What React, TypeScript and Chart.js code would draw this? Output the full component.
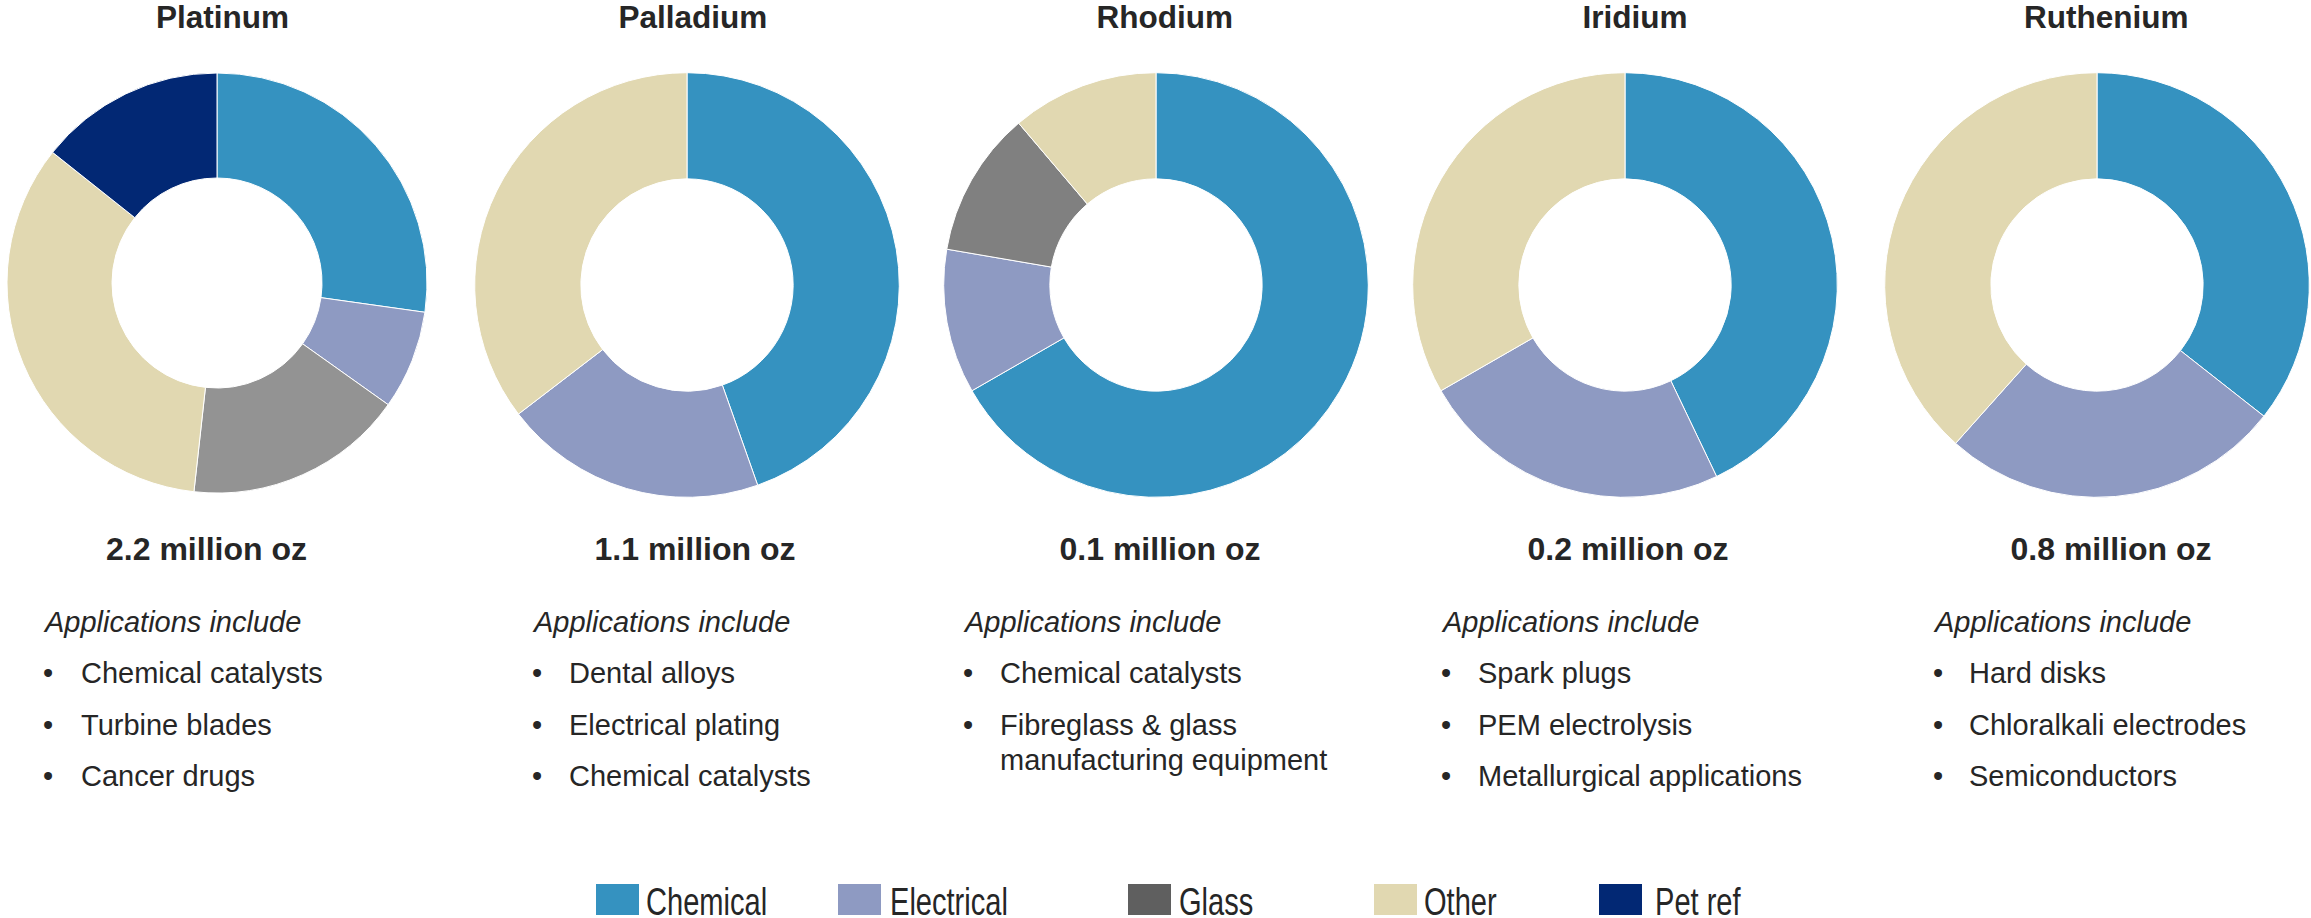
import React, { useEffect, useRef } from 'react';
import { Chart, registerables } from 'chart.js';

Chart.register(...registerables);

// ---------- data ----------
const categories = ['Chemical', 'Electrical', 'Glass', 'Other', 'Pet ref'];
const legendColors = ['#3592c0', '#8e9ac2', '#5f5f5f', '#e1d8b1', '#022874'];

const metals = ['Platinum', 'Palladium', 'Rhodium', 'Iridium', 'Ruthenium'];
const totals = ['2.2 million oz', '1.1 million oz', '0.1 million oz', '0.2 million oz', '0.8 million oz'];

// shares (%) in category order: Chemical, Electrical, Glass, Other, Pet ref
const platinumShares = [27.2, 7.6, 16.9, 33.9, 14.3];
const palladiumShares = [44.6, 20.0, 0, 35.4, 0];
const rhodiumShares = [66.7, 11.0, 11.1, 11.2, 0];
const iridiumShares = [42.9, 23.8, 0, 33.3, 0];
const rutheniumShares = [35.6, 26.0, 0, 38.4, 0];

// glass shade used in each ring
const glassShades = ['#939393', '#5f5f5f', '#808080', '#5f5f5f', '#5f5f5f'];

const platinumUses = ['Chemical catalysts', 'Turbine blades', 'Cancer drugs'];
const palladiumUses = ['Dental alloys', 'Electrical plating', 'Chemical catalysts'];
const rhodiumUses = ['Chemical catalysts', 'Fibreglass & glass manufacturing equipment'];
const iridiumUses = ['Spark plugs', 'PEM electrolysis', 'Metallurgical applications'];
const rutheniumUses = ['Hard disks', 'Chloralkali electrodes', 'Semiconductors'];

const sharesByMetal = [platinumShares, palladiumShares, rhodiumShares, iridiumShares, rutheniumShares];
const usesByMetal = [platinumUses, palladiumUses, rhodiumUses, iridiumUses, rutheniumUses];

// ---------- layout ----------
const ringCx = [217.3, 686.7, 1155.7, 1625, 2096.5];
const ringCy = [283, 284.6, 284.6, 284.6, 284.6];
const ringR = [210, 212.3, 212.3, 212.3, 212.3];
const titleCx = [222.5, 692.8, 1164.7, 1635, 2106.3];
const totalCx = [206.5, 695, 1160, 1628, 2111];
const textLeft = [45, 534, 965, 1443, 1935];
const bulletGap = [36, 35, 35, 35, 34];
const legendBoxX = [596, 838, 1128, 1374, 1599];
const legendTextX = [646, 890, 1179, 1424, 1655];

const CANVAS = 440;
const FONT = "'Liberation Sans', Arial, Helvetica, sans-serif";
const TEXT = '#262626';

function Donut({ idx }: { idx: number }) {
  const ref = useRef<HTMLCanvasElement | null>(null);
  useEffect(() => {
    if (!ref.current) return;
    const colors = legendColors.slice();
    colors[2] = glassShades[idx];
    const chart = new Chart(ref.current, {
      type: 'doughnut',
      data: {
        labels: categories,
        datasets: [
          {
            data: sharesByMetal[idx],
            backgroundColor: colors,
            borderColor: '#ffffff',
            borderWidth: 1,
            hoverOffset: 0,
            radius: ringR[idx],
          } as any,
        ],
      },
      options: {
        responsive: false,
        maintainAspectRatio: false,
        animation: false,
        cutout: '50%',
        rotation: 0,
        layout: { padding: 0 },
        plugins: {
          legend: { display: false },
          tooltip: { enabled: false },
          title: { display: false },
        },
        events: [],
      } as any,
    });
    return () => chart.destroy();
  }, [idx]);
  return (
    <canvas
      ref={ref}
      width={CANVAS}
      height={CANVAS}
      style={{
        position: 'absolute',
        left: Math.round(ringCx[idx] - CANVAS / 2),
        top: Math.round(ringCy[idx] - CANVAS / 2),
        width: CANVAS,
        height: CANVAS,
      }}
    />
  );
}

function Panel({ idx }: { idx: number }) {
  return (
    <>
      <div
        style={{
          position: 'absolute',
          left: titleCx[idx] - 200,
          width: 400,
          top: 1.6,
          textAlign: 'center',
          fontWeight: 'bold',
          fontSize: 31.5,
          lineHeight: '31.5px',
          whiteSpace: 'nowrap',
        }}
      >
        {metals[idx]}
      </div>
      <Donut idx={idx} />
      <div
        style={{
          position: 'absolute',
          left: totalCx[idx] - 200,
          width: 400,
          top: 532.9,
          textAlign: 'center',
          fontWeight: 'bold',
          fontSize: 32,
          lineHeight: '32px',
          whiteSpace: 'nowrap',
        }}
      >
        {totals[idx]}
      </div>
      <div
        style={{
          position: 'absolute',
          left: textLeft[idx],
          top: 605.2,
          width: bulletGap[idx] + 345,
          fontSize: 29,
          lineHeight: '35px',
        }}
      >
        <div style={{ fontStyle: 'italic', marginBottom: 15.6, whiteSpace: 'nowrap' }}>Applications include</div>
        {usesByMetal[idx].map((u, k) => (
          <div key={k} style={{ position: 'relative', paddingLeft: bulletGap[idx], marginBottom: 16.8 }}>
            <span style={{ position: 'absolute', left: -2, top: 0 }}>•</span>
            {u}
          </div>
        ))}
      </div>
    </>
  );
}

export default function App() {
  useEffect(() => {
    document.body.style.margin = '0';
    document.body.style.overflow = 'hidden';
  }, []);
  return (
    <div
      style={{
        position: 'absolute',
        left: 0,
        top: 0,
        width: 2311,
        height: 918,
        overflow: 'hidden',
        background: '#ffffff',
        fontFamily: FONT,
        color: TEXT,
      }}
    >
      {metals.map((_, i) => (
        <Panel key={i} idx={i} />
      ))}
      {categories.map((c, i) => (
        <React.Fragment key={c}>
          <div
            style={{
              position: 'absolute',
              left: legendBoxX[i],
              top: 884,
              width: 43,
              height: 31,
              background: legendColors[i],
            }}
          />
          <div
            style={{
              position: 'absolute',
              left: legendTextX[i],
              top: 882,
              fontSize: 39,
              lineHeight: '39px',
              whiteSpace: 'nowrap',
              transform: 'scaleX(0.745)',
              transformOrigin: 'left top',
            }}
          >
            {c}
          </div>
        </React.Fragment>
      ))}
    </div>
  );
}
